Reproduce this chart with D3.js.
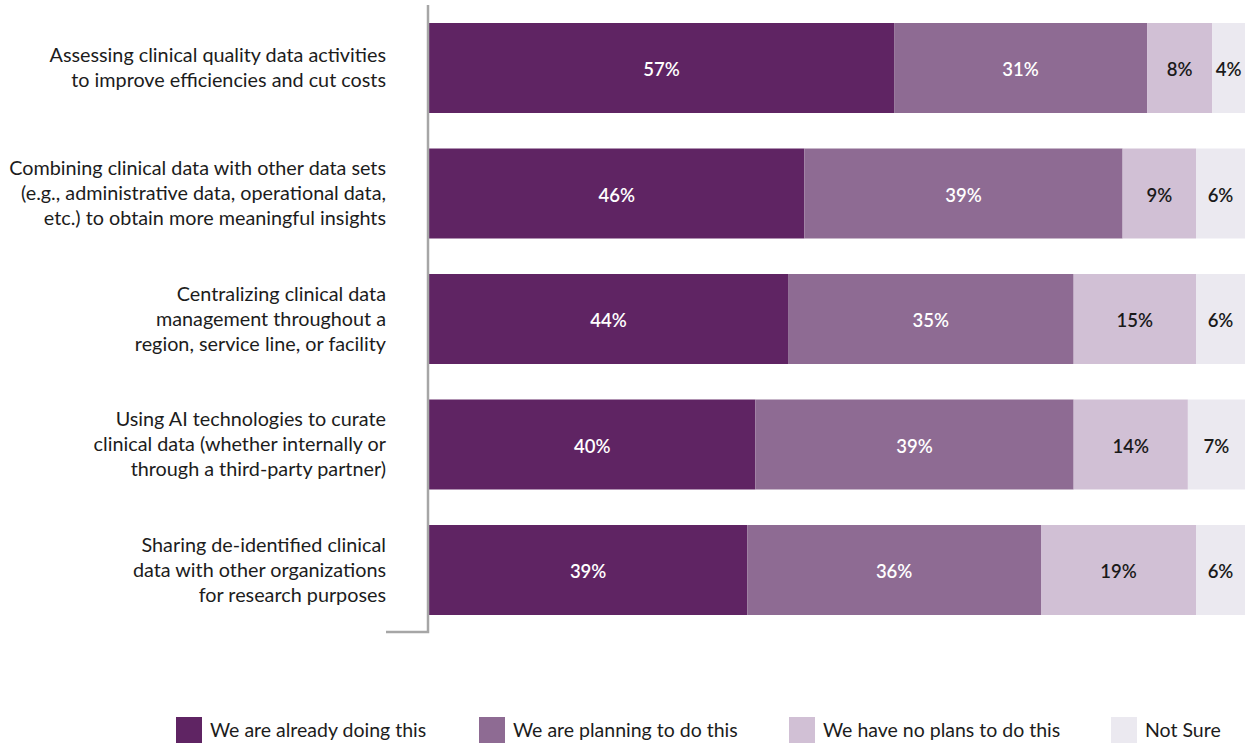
<!DOCTYPE html>
<html>
<head>
<meta charset="utf-8">
<script src="https://cdn.jsdelivr.net/npm/d3@7"></script>
<style>
  html, body { margin: 0; padding: 0; background: #ffffff; }
  svg { display: block; font-family: Lato, "Open Sans", sans-serif; }
</style>
</head>
<body>
<svg id="chart" width="1248" height="744"></svg>
<script>
// Survey activities (one row each); label lines split as displayed
const categories = [
  ["Assessing clinical quality data activities", "to improve efficiencies and cut costs"],
  ["Combining clinical data with other data sets", "(e.g., administrative data, operational data,", "etc.) to obtain more meaningful insights"],
  ["Centralizing clinical data", "management throughout a", "region, service line, or facility"],
  ["Using AI technologies to curate", "clinical data (whether internally or", "through a third-party partner)"],
  ["Sharing de-identified clinical", "data with other organizations", "for research purposes"]
];

const seriesNames = [
  "We are already doing this",
  "We are planning to do this",
  "We have no plans to do this",
  "Not Sure"
];

// Percent of respondents per series, in category order
const alreadyDoing = [57, 46, 44, 40, 39];
const planning     = [31, 39, 35, 39, 36];
const noPlans      = [8, 9, 15, 14, 19];
const notSure      = [4, 6, 6, 7, 6];

const seriesValues = [alreadyDoing, planning, noPlans, notSure];
const colors = ["#5f2463", "#8e6b93", "#d1c0d5", "#ebe9f0"];
const labelColors = ["#ffffff", "#ffffff", "#1a1a1a", "#1a1a1a"];

const svg = d3.select("#chart");

const x = d3.scaleLinear().domain([0, 100]).range([429, 1245]);
const y = d3.scaleBand()
  .domain(d3.range(categories.length))
  .range([5.25, 632.75])
  .paddingInner(0.283)
  .paddingOuter(0.1415);

// Build stacked table
const rows = categories.map((c, i) => {
  const r = { idx: i };
  seriesNames.forEach((s, j) => { r[s] = seriesValues[j][i]; });
  return r;
});
const stacked = d3.stack().keys(seriesNames)(rows);

const layers = svg.append("g").selectAll("g")
  .data(stacked)
  .join("g")
  .attr("fill", (d, j) => colors[j]);

layers.selectAll("rect")
  .data(d => d)
  .join("rect")
  .attr("x", d => x(d[0]))
  .attr("y", (d, i) => y(i))
  .attr("width", d => x(d[1]) - x(d[0]))
  .attr("height", y.bandwidth());

// Value labels
layers.each(function(layer, j) {
  d3.select(this).selectAll("text")
    .data(layer)
    .join("text")
    .attr("x", d => (x(d[0]) + x(d[1])) / 2)
    .attr("y", (d, i) => y(i) + y.bandwidth() / 2 + 2)
    .attr("dy", "0.35em")
    .attr("text-anchor", "middle")
    .attr("fill", labelColors[j])
    .attr("font-size", 18.5)
    .attr("font-weight", 600)
    .text(d => (d[1] - d[0]) + "%");
});

// Category labels
const lineH = 25;
svg.append("g").selectAll("text")
  .data(categories)
  .join("text")
  .attr("text-anchor", "end")
  .attr("font-size", 19.8)
  .attr("fill", "#1c1c1c")
  .each(function(lines, i) {
    const cy = y(i) + y.bandwidth() / 2;
    const t = d3.select(this);
    lines.forEach((ln, k) => {
      t.append("tspan")
        .attr("x", 386)
        .attr("y", cy + (k - (lines.length - 1) / 2) * lineH)
        .attr("dy", "0.35em")
        .text(ln);
    });
  });

// Left axis bracket
svg.append("path")
  .attr("d", "M428,5 L428,632 L386,632")
  .attr("fill", "none")
  .attr("stroke", "#a6a6a6")
  .attr("stroke-width", 2.5);

// Legend
const legendX = [176, 479, 789, 1111];
const legend = svg.append("g").selectAll("g")
  .data(seriesNames)
  .join("g")
  .attr("transform", (d, j) => `translate(${legendX[j]},717)`);
legend.append("rect")
  .attr("width", 26).attr("height", 26)
  .attr("fill", (d, j) => colors[j]);
legend.append("text")
  .attr("x", 34).attr("y", 13).attr("dy", "0.35em")
  .attr("font-size", 19.5)
  .attr("fill", "#1c1c1c")
  .text(d => d);
</script>
</body>
</html>
